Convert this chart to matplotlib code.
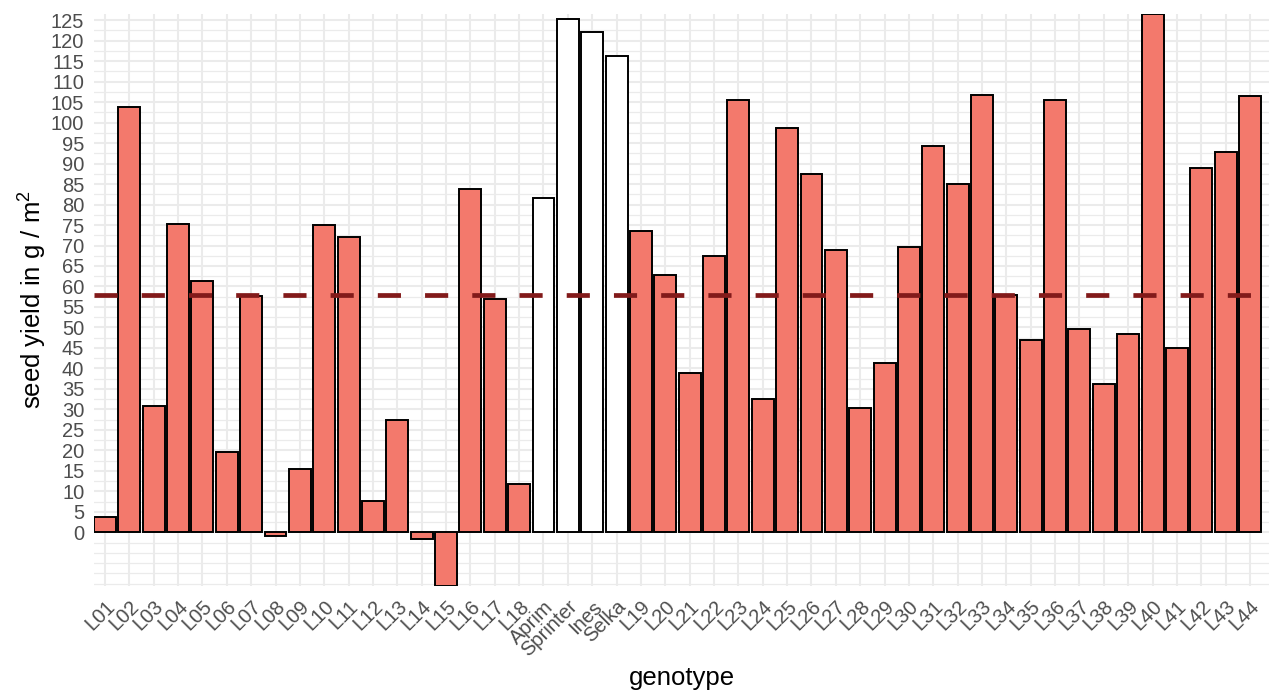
import numpy as np
import matplotlib
matplotlib.use("Agg")
import matplotlib.pyplot as plt
from matplotlib.ticker import MultipleLocator

plt.rcParams['font.family'] = ['Liberation Sans', 'DejaVu Sans']
plt.rcParams['mathtext.fontset'] = 'custom'
plt.rcParams['mathtext.rm'] = 'Liberation Sans'
plt.rcParams['mathtext.it'] = 'Liberation Sans'

# genotypes in plot order (lines + check varieties)
genotypes = ["L01", "L02", "L03", "L04", "L05", "L06", "L07", "L08", "L09", "L10",
             "L11", "L12", "L13", "L14", "L15", "L16", "L17", "L18",
             "Aprim", "Sprinter", "Ines", "Selka",
             "L19", "L20", "L21", "L22", "L23", "L24", "L25", "L26", "L27", "L28",
             "L29", "L30", "L31", "L32", "L33", "L34", "L35", "L36", "L37", "L38",
             "L39", "L40", "L41", "L42", "L43", "L44"]
yields = [3.7, 103.8, 30.8, 75.2, 61.3, 19.6, 57.6, -0.8, 15.5, 75.0,
          72.1, 7.6, 27.3, -1.7, -13.1, 83.7, 57.0, 11.7,
          81.6, 125.2, 122.0, 116.2,
          73.6, 62.7, 39.0, 67.5, 105.4, 32.5, 98.7, 87.5, 68.8, 30.3,
          41.3, 69.7, 94.3, 85.0, 106.7, 58.0, 47.0, 105.5, 49.6, 36.3,
          48.3, 126.5, 44.9, 89.0, 92.9, 106.6]
checks = ["Aprim", "Sprinter", "Ines", "Selka"]
mean_line = 58.0

fig = plt.figure(figsize=(12.69, 6.91), dpi=100)
ax = fig.add_axes([94/1269, 1 - 586/691, 1 - 94/1269, (586 - 14)/691])

x = np.arange(len(genotypes))
colors = ["white" if g in checks else "#F3796C" for g in genotypes]
ax.bar(x, yields, width=0.9, color=colors, edgecolor="black", linewidth=1.4, zorder=3)

ax.axhline(mean_line, color="#821A1A", linewidth=3.4, linestyle=(0, (4.9, 5.1)),
           dash_capstyle="butt", zorder=4)

ax.set_xlim(-0.45, len(genotypes) - 1 + 0.78)
ax.set_ylim(min(yields), max(yields))

ax.set_yticks(np.arange(0, 126, 5))
ax.yaxis.set_minor_locator(MultipleLocator(2.5))
ax.set_xticks(x)
ax.set_xticklabels(genotypes, rotation=45, ha="right", va="top",
                   rotation_mode="anchor")

ax.tick_params(axis="both", which="both", length=0, labelsize=14.5, labelcolor="#4D4D4D")
ax.tick_params(axis="x", pad=8)
ax.tick_params(axis="y", pad=7)

ax.grid(True, which="major", color="#EBEBEB", linewidth=1.5, zorder=0)
ax.grid(True, which="minor", axis="y", color="#EBEBEB", linewidth=0.9, zorder=0)
ax.set_axisbelow(True)
for s in ax.spines.values():
    s.set_visible(False)

ax.set_xlabel("genotype", fontsize=18.5, va="center")
ax.xaxis.set_label_coords(0.5, (586 - 678) / 572)
ax.set_ylabel("seed yield in g / m$^2$", fontsize=18.5, va="center")
ax.yaxis.set_label_coords((33 - 94) / 1175, 0.5)

fig.savefig("out.png", dpi=100)
